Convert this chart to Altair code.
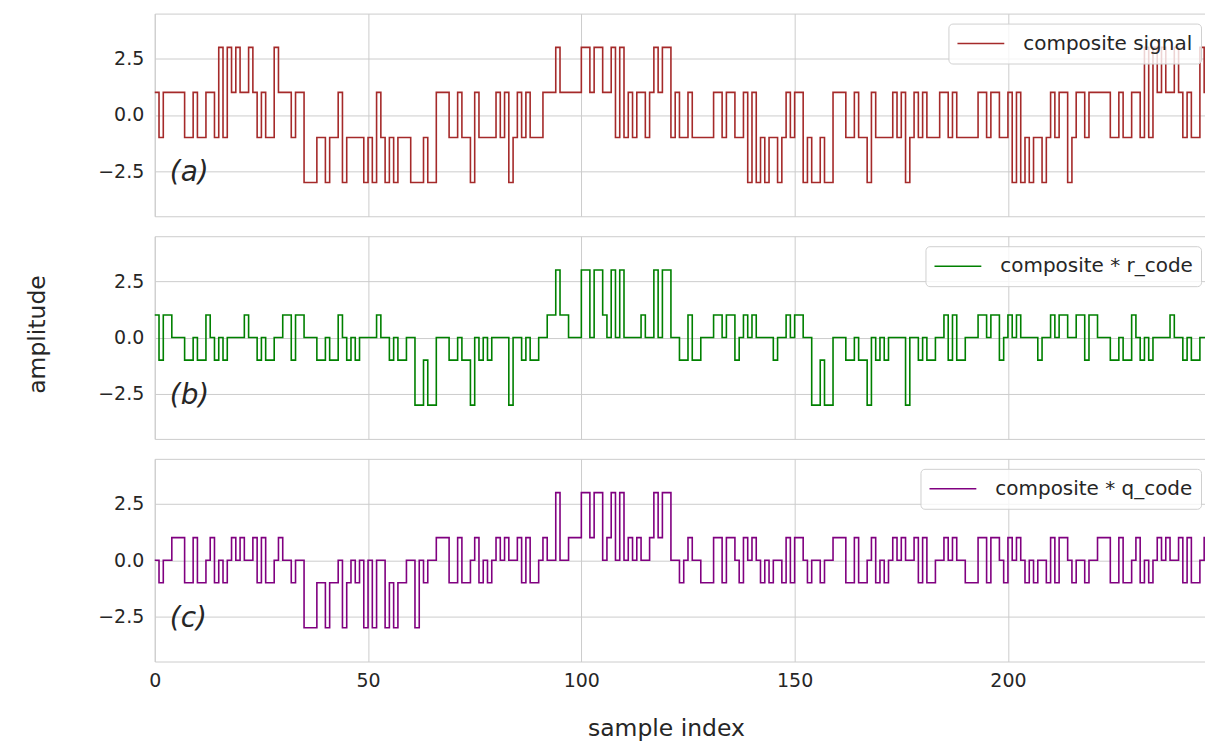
import altair as alt
import pandas as pd

# composite signal value on each unit interval [k, k+1], k = 0..246
composite = [
    1, -1, 1, 1, 1, 1, 1, -1, -1, 1, -1, -1, 1, 1, -1, 3, -1, 3, 1, 3,
    1, 1, 3, 1, -1, 1, -1, -1, 3, 1, 1, 1, -1, 1, 1, -3, -3, -3, -1, -1,
    -3, -1, -1, 1, -3, -1, -1, -1, -1, -3, -1, -3, 1, -1, -3, -1, -3, -1, -1, -1,
    -3, -3,
    -3, -1, -3, -3, 1, 1, 1, -1, -1, 1, -1, -1, -3, 1, -1, -1, -1, -1, 1, -1,
    1, -3, -1, 1, -1, 1, -1, -1, -1, 1, 1, 1, 3, 1, 1, 1, 1, 1, 3, 3,
    1, 3, 3, 1, 1, 3, -1, 3, -1, 1, -1, 1, 1, -1, 1, 3, 1, 3, 3, -1,
    1, -1,
    -1, 1, -1, -1, -1, -1, -1, 1, 1, -1, 1, 1, -1, -1, 1, -3, 1, -3, -1, -3,
    -1, -1, -3, -1, 1, -1, 1, 1, -3, -1, -3, -3, -1, -3, -3, 1, 1, 1, -1, -1,
    1, -1, -1, -3, 1, -1, -1, -1, -1, 1, -1, 1, -3, -1, 1, -1, 1, -1, -1, -1,
    1, 1,
    -1, 1, -1, -1, -1, -1, -1, 1, 1, -1, 1, 1, -1, -1, 1, -3, 1, -3, -1, -3,
    -1, -1, -3, -1, 1, -1, 1, 1, -3, -1, 1, 1, -1, 1, 1, 1, 1, 1, -1, -1,
    1, -1, -1, 1, 1, -1, 3, -1, 3, 1, 3, 1, 1, 3, 1, -1, 1, -1, -1, 3,
    1,
]

r_code = [
    1, 1, 1, 1, 0, 0, 0, 1, 1, 0, 1, 1, 1, 0, 1, 0, 1, 0, 0, 0,
    0, 1, 0, 0, 1, 0, 1, 1, 0, 0, 1, 1, 1, 1, 1, 0, 0, 0, 1, 1,
    0, 1, 1, 1, 0, 1, 0, 1, 0, 0, 0, 0, 1, 0, 0, 1, 0, 1, 1, 0,
    0, 1,
    1, 1, 1, 1, 0, 0, 0, 1, 1, 0, 1, 1, 1, 0, 1, 0, 1, 0, 0, 0,
    0, 1, 0, 0, 1, 0, 1, 1, 0, 0, 1, 1, 1, 1, 1, 0, 0, 0, 1, 1,
    0, 1, 1, 1, 0, 1, 0, 1, 0, 0, 0, 0, 1, 0, 0, 1, 0, 1, 1, 0,
    0, 1,
    1, 1, 1, 1, 0, 0, 0, 1, 1, 0, 1, 1, 1, 0, 1, 0, 1, 0, 0, 0,
    0, 1, 0, 0, 1, 0, 1, 1, 0, 0, 1, 1, 1, 1, 1, 0, 0, 0, 1, 1,
    0, 1, 1, 1, 0, 1, 0, 1, 0, 0, 0, 0, 1, 0, 0, 1, 0, 1, 1, 0,
    0, 1,
    1, 1, 1, 1, 0, 0, 0, 1, 1, 0, 1, 1, 1, 0, 1, 0, 1, 0, 0, 0,
    0, 1, 0, 0, 1, 0, 1, 1, 0, 0, 1, 1, 1, 1, 1, 0, 0, 0, 1, 1,
    0, 1, 1, 1, 0, 1, 0, 1, 0, 0, 0, 0, 1, 0, 0, 1, 0, 1, 1, 0,
    0,
]

q_code = [
    0, 1, 0, 0, 1, 1, 1, 1, 1, 1, 1, 1, 0, 1, 1, 0, 1, 0, 1, 0,
    1, 0, 0, 1, 1, 1, 1, 1, 0, 1, 0, 0, 1, 0, 0, 1, 1, 1, 1, 1,
    1, 1, 1, 0, 1, 1, 0, 1, 0, 1, 0, 1, 0, 0, 1, 1, 1, 1, 1, 0,
    0, 1,
    0, 1, 0, 0, 1, 1, 1, 1, 1, 1, 1, 1, 0, 1, 1, 0, 1, 0, 1, 0,
    1, 0, 0, 1, 1, 1, 1, 1, 0, 1, 0, 0, 1, 0, 0, 1, 1, 1, 1, 1,
    1, 1, 1, 0, 1, 1, 0, 1, 0, 1, 0, 1, 0, 0, 1, 1, 1, 1, 1, 0,
    0, 1,
    0, 1, 0, 0, 1, 1, 1, 1, 1, 1, 1, 1, 0, 1, 1, 0, 1, 0, 1, 0,
    1, 0, 0, 1, 1, 1, 1, 1, 0, 1, 0, 0, 1, 0, 0, 1, 1, 1, 1, 1,
    1, 1, 1, 0, 1, 1, 0, 1, 0, 1, 0, 1, 0, 0, 1, 1, 1, 1, 1, 0,
    0, 1,
    0, 1, 0, 0, 1, 1, 1, 1, 1, 1, 1, 1, 0, 1, 1, 0, 1, 0, 1, 0,
    1, 0, 0, 1, 1, 1, 1, 1, 0, 1, 0, 0, 1, 0, 0, 1, 1, 1, 1, 1,
    1, 1, 1, 0, 1, 1, 0, 1, 0, 1, 0, 1, 0, 0, 1, 1, 1, 1, 1, 0,
    1,
]

series_names = ["composite signal", "composite * r_code", "composite * q_code"]
series_colors = ["#a52a2a", "#008000", "#800080"]
panel_labels = ["(a)", "(b)", "(c)"]
x_ticks = [0, 50, 100, 150, 200]
y_ticks = [-2.5, 0.0, 2.5]

sig_r = [c * r for c, r in zip(composite, r_code)]
sig_q = [c * q for c, q in zip(composite, q_code)]
all_series = [composite, sig_r, sig_q]
xs = list(range(len(composite) + 1))

FONT = "DejaVu Sans"
TXT = "#262626"
W, H = 1058, 203


def panel(i):
    vals = all_series[i]
    df = pd.DataFrame({"x": xs, "y": list(vals) + [vals[-1]], "series": series_names[i]})

    x_axis_kw = dict(values=x_ticks, grid=True, ticks=False, domain=False, labelFlush=False)
    if i == 2:
        x_axis_kw.update(labels=True, labelPadding=10, titlePadding=26, titleX=512, titleAlign="center")
        x_title = "sample index"
    else:
        x_axis_kw.update(labels=False)
        x_title = None

    y_axis_kw = dict(values=y_ticks, format=".1f", grid=True, ticks=False, domain=False, labelPadding=11)
    if i == 1:
        y_axis_kw.update(titleX=-117, titleY=98, titleAngle=270, titleBaseline="middle", titleAlign="center")
        y_title = "amplitude"
    else:
        y_title = None

    line = alt.Chart(df).mark_line(interpolate="step-after", strokeWidth=1.6).encode(
        x=alt.X("x:Q", title=x_title, scale=alt.Scale(domain=[0, 247.6], nice=False, zero=False),
                axis=alt.Axis(**x_axis_kw)),
        y=alt.Y("y:Q", title=y_title, scale=alt.Scale(domain=[-4.5, 4.5], nice=False),
                axis=alt.Axis(**y_axis_kw)),
        color=alt.Color(
            "series:N",
            title=None,
            scale=alt.Scale(domain=[series_names[i]], range=[series_colors[i]]),
            legend=alt.Legend(
                orient="top-right", offset=10, padding=8, clipHeight=24,
                fillColor="rgba(255,255,255,0.8)", strokeColor="#d0d0d0", cornerRadius=4,
                symbolType="stroke", symbolSize=2200, symbolStrokeWidth=1.6,
                labelFontSize=20, labelFont=FONT, labelColor=TXT, labelOffset=18, labelLimit=400,
            ),
        ),
    )

    label = alt.Chart(pd.DataFrame({"t": [panel_labels[i]]})).mark_text(
        align="left", baseline="alphabetic", font=FONT, fontSize=28, fontStyle="italic", color=TXT
    ).encode(x=alt.value(15), y=alt.value(168), text="t:N")

    return alt.layer(line, label).properties(width=W, height=H)


chart = alt.vconcat(panel(0), panel(1), panel(2), spacing=18).resolve_scale(color="independent").properties(
    padding={"left": 17, "top": 4, "right": -8, "bottom": 0},
    background="white",
).configure_view(
    stroke="#cccccc", strokeWidth=1
).configure_axis(
    gridColor="#cccccc", gridWidth=1,
    labelFont=FONT, labelFontSize=19, labelColor=TXT,
    titleFont=FONT, titleFontSize=23.5, titleColor=TXT, titleFontWeight="normal",
)

chart.save("out.html", embed_options={"renderer": "svg", "actions": False})
